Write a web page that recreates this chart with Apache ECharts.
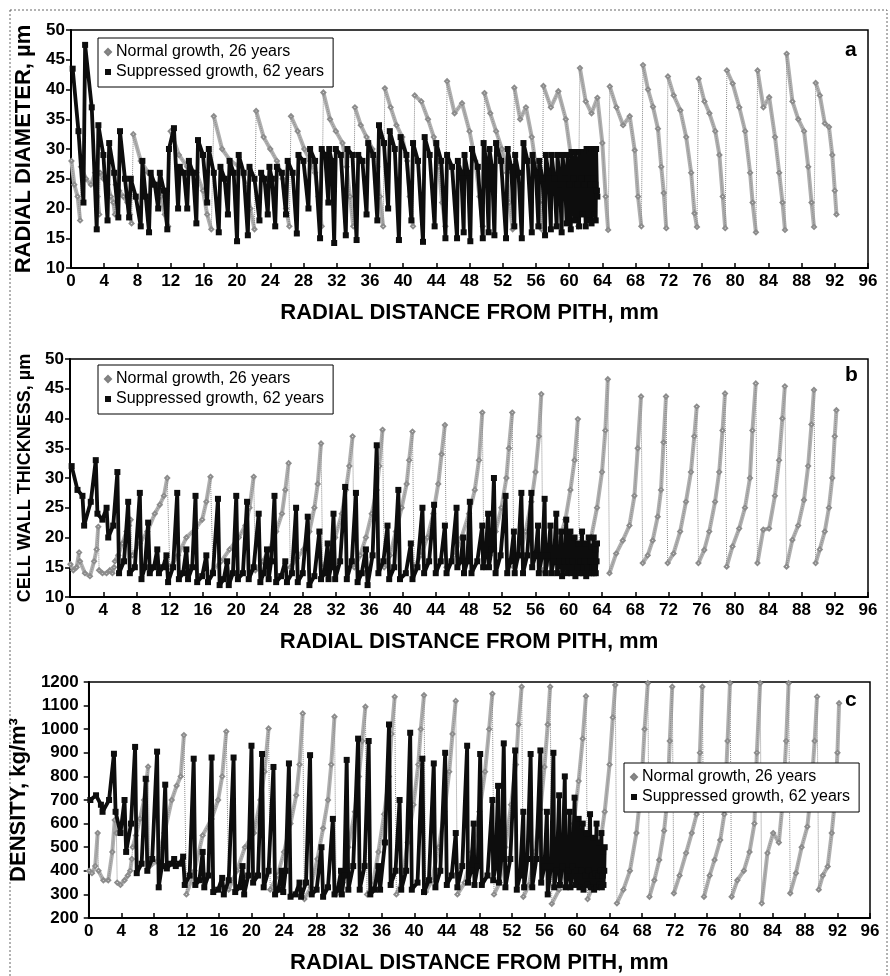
<!DOCTYPE html>
<html>
<head>
<meta charset="utf-8">
<script src="https://cdn.jsdelivr.net/npm/echarts@6/dist/echarts.min.js"></script>
<style>
html, body { margin: 0; background: #fff; }
#chart { width: 890px; height: 976px; }
</style>
</head>
<body>
<div id="chart"></div>
<script>
// ---- normal growth tree: 26 rings, sample positions (mm) per ring ----
var normalX = [
  [0.05, 0.4, 0.8, 1.1],
  [1.2, 1.8, 2.4, 2.9, 3.2, 3.4],
  [3.5, 3.9, 4.4, 4.8, 5.1, 5.3],
  [5.4, 5.8, 6.3, 6.8, 7.1, 7.3],
  [7.5, 8.4, 9.3, 10.2, 10.8, 11.3, 11.7],
  [12.0, 13.0, 14.0, 15.1, 15.9, 16.4, 16.9],
  [17.2, 18.2, 19.2, 20.3, 21.1, 21.6, 22.1],
  [22.3, 23.2, 24.0, 24.8, 25.5, 25.9, 26.3],
  [26.5, 27.3, 28.1, 28.8, 29.4, 29.8, 30.2],
  [30.4, 31.2, 31.9, 32.7, 33.2, 33.6, 34.0],
  [34.2, 34.9, 35.6, 36.3, 36.9, 37.2, 37.6],
  [37.8, 38.5, 39.2, 39.9, 40.5, 40.8, 41.2],
  [41.4, 42.2, 43.0, 43.7, 44.3, 44.7, 45.1],
  [45.3, 46.2, 47.1, 48.0, 48.7, 49.2, 49.6],
  [49.8, 50.5, 51.2, 51.9, 52.5, 52.8, 53.2],
  [53.4, 54.1, 54.8, 55.5, 56.0, 56.4, 56.7],
  [56.9, 57.8, 58.7, 59.6, 60.2, 60.7, 61.1],
  [61.3, 62.0, 62.7, 63.4, 64.0, 64.4, 64.7],
  [64.9, 65.7, 66.5, 67.3, 67.9, 68.3, 68.7],
  [68.9, 69.5, 70.1, 70.7, 71.1, 71.4, 71.7],
  [71.9, 72.6, 73.4, 74.1, 74.7, 75.1, 75.4],
  [75.6, 76.3, 76.9, 77.6, 78.1, 78.5, 78.8],
  [79.0, 79.7, 80.5, 81.2, 81.8, 82.1, 82.5],
  [82.7, 83.4, 84.1, 84.8, 85.3, 85.7, 86.0],
  [86.2, 86.9, 87.6, 88.3, 88.8, 89.2, 89.5],
  [89.7, 90.2, 90.8, 91.3, 91.7, 92.0, 92.2]
];

var normalDiameter = [
  [28, 24, 22, 18],
  [27, 25, 24, 26, 22, 19],
  [26, 25, 24, 22, 21, 19],
  [24, 23, 22, 21, 19, 17.5],
  [32.5, 28, 26, 24, 22, 19, 17],
  [33, 29, 27, 26, 23, 19, 16.5],
  [35.5, 30, 28, 27, 24, 20, 16.5],
  [36.4, 32, 30, 28, 25, 20, 17],
  [35.5, 33, 30, 28, 26, 22, 17],
  [39.5, 35, 33, 31, 27, 22, 17],
  [37, 34, 32, 30, 27, 22, 17],
  [40.2, 37, 34, 32, 28, 22, 17],
  [39, 38, 35, 32, 27, 21, 17],
  [41.4, 36, 37.7, 33, 28, 22, 17],
  [39.4, 36, 33, 30, 26, 21, 16.5],
  [40.3, 35, 37, 32, 27, 21, 16.5],
  [40.6, 37, 39.7, 35, 29, 22, 17],
  [43.6, 38, 36, 38.6, 31, 22, 16.4],
  [40.5, 37, 34, 35.5, 29.8, 22, 17],
  [44.1, 40, 37.1, 33.4, 27, 22.6, 16.7],
  [42.2, 39, 36.5, 32, 26, 19.2, 16.9],
  [41.8, 38, 36, 33, 29, 22, 16.7],
  [43.2, 41, 37, 33, 26, 21, 16],
  [43.2, 37, 38.7, 32, 26, 21, 16.4],
  [46, 38, 35, 33, 27, 21, 16.9],
  [41.1, 39, 34.3, 33.7, 29, 23, 19]
];

var normalWall = [
  [15.5, 14.5, 15, 17.5],
  [16, 14, 13.5, 16, 18, 21.8],
  [14.5, 14, 14, 14.5, 14, 15],
  [16, 17, 19, 21, 22, 23],
  [17, 19, 21, 24, 25.5, 27, 30],
  [15, 17, 20, 21.5, 23, 26, 30.2],
  [14.5, 16, 18, 20, 22, 25, 30.2],
  [14.5, 16, 18, 21, 24, 28, 32.5],
  [15, 16.5, 18, 21, 25, 29, 35.8],
  [15, 17, 20, 24, 28, 32, 37],
  [15, 17, 20, 24, 28, 32, 38.1],
  [15, 17, 21, 25, 29, 33, 37.8],
  [15, 17, 20, 24, 29, 34, 38.9],
  [15, 17, 20, 24, 28, 33, 41],
  [15, 17, 21, 25, 30, 35, 41],
  [15, 17, 21, 26, 31, 37, 44.1],
  [14.5, 16, 19, 23, 28, 33, 39.9],
  [15, 17, 20, 25, 31, 38, 46.6],
  [14, 17.3, 19.5, 22, 27, 35, 43.7],
  [15.7, 17, 19.5, 23.5, 28, 36, 43.7],
  [15.7, 17.3, 21, 26, 31, 37, 42],
  [15.7, 17.9, 21, 26, 31, 38, 44.2],
  [15.1, 18.5, 21.5, 25, 30, 38, 45.9],
  [15.7, 21.3, 21.5, 27, 33, 40, 45.4],
  [15.1, 19.6, 22, 26.3, 32, 39, 44.8],
  [15.7, 18, 21, 25, 30, 37, 41.4]
];

var normalDensity = [
  [400, 390, 420, 560],
  [400, 360, 360, 480, 615, 560],
  [350, 340, 360, 380, 400, 450],
  [500, 550, 620, 700, 780, 841],
  [420, 440, 560, 700, 760, 800, 975],
  [300, 400, 550, 620, 700, 800, 990],
  [320, 400, 500, 560, 700, 820, 1003],
  [320, 380, 480, 600, 720, 850, 1067],
  [280, 330, 450, 580, 700, 850, 1053],
  [300, 350, 500, 650, 800, 950, 1095],
  [300, 340, 480, 640, 800, 980, 1137],
  [300, 360, 520, 680, 850, 1000, 1144],
  [310, 360, 500, 650, 820, 980, 1120],
  [300, 350, 480, 650, 820, 1000, 1150],
  [300, 350, 500, 680, 850, 1020, 1180],
  [290, 340, 480, 660, 840, 1020, 1180],
  [260, 320, 450, 600, 780, 960, 1140],
  [280, 340, 480, 650, 850, 1050, 1187],
  [262, 320, 400, 560, 756, 1000, 1195],
  [290, 360, 446, 570, 700, 950, 1180],
  [305, 380, 475, 560, 640, 900, 1180],
  [290, 380, 446, 530, 640, 950, 1195],
  [290, 360, 400, 480, 600, 900, 1195],
  [262, 475, 560, 520, 700, 950, 1195],
  [305, 390, 500, 587, 750, 950, 1138],
  [320, 380, 418, 560, 700, 900, 1110]
];

// ---- suppressed growth tree: 62 rings, three samples per ring ----
var suppressedX = [
  0.2, 0.9, 1.5, 1.7, 2.5, 3.1, 3.3, 3.9, 4.4, 4.6, 5.2, 5.7, 5.9, 6.5, 7.0,
  7.2, 7.8, 8.4, 8.6, 9.0, 9.4, 9.6, 10.1, 10.5, 10.7, 11.2, 11.6, 11.8, 12.4, 12.9,
  13.1, 13.6, 14.0, 14.2, 14.7, 15.1, 15.3, 15.9, 16.4, 16.6, 17.2, 17.8, 18.0, 18.5, 18.9,
  19.1, 19.6, 20.0, 20.2, 20.8, 21.3, 21.5, 22.1, 22.7, 22.9, 23.3, 23.7, 23.9, 24.2, 24.6,
  24.8, 25.4, 25.9, 26.1, 26.7, 27.2, 27.4, 28.0, 28.6, 28.8, 29.4, 30.0, 30.2, 30.6, 31.0,
  31.1, 31.4, 31.7, 31.9, 32.5, 33.1, 33.3, 33.9, 34.4, 34.6, 35.1, 35.6, 35.8, 36.4, 36.9,
  37.1, 37.7, 38.2, 38.4, 39.0, 39.5, 39.7, 40.4, 41.0, 41.2, 41.8, 42.4, 42.6, 43.2, 43.8,
  44.0, 44.6, 45.1, 45.3, 45.9, 46.5, 46.6, 47.0, 47.3, 47.4, 47.8, 48.1, 48.3, 49.0, 49.6,
  49.7, 50.0, 50.3, 50.4, 50.7, 51.0, 51.2, 51.8, 52.4, 52.6, 53.0, 53.4, 53.5, 53.9, 54.3,
  54.5, 55.0, 55.5, 55.6, 56.0, 56.3, 56.4, 56.8, 57.1, 57.2, 57.5, 57.8, 57.9, 58.2, 58.5,
  58.6, 58.9, 59.1, 59.2, 59.5, 59.7, 59.8, 60.0, 60.2, 60.3, 60.5, 60.7, 60.8, 61.0, 61.2,
  61.3, 61.45, 61.6, 61.7, 61.85, 62.0, 62.1, 62.25, 62.4, 62.45, 62.6, 62.7, 62.75, 62.9, 63.0,
  63.05, 63.15, 63.2, 63.25, 63.35, 63.4
];

var suppressedDiameter = [
  43.5, 33, 21, 47.5, 37, 16.5, 34, 29, 18, 31, 26, 18.5, 33, 25, 18.5,
  25, 22, 17, 28, 22, 16, 26, 24, 20, 26, 23, 16.5, 30, 33.5, 20,
  27, 26, 20, 28, 26, 17.5, 31.5, 29, 21, 30, 26, 16, 27, 25, 19,
  28, 26, 14.5, 29, 26, 15.5, 27, 25, 18, 26, 25, 19, 27, 25, 17,
  27, 26, 19, 28, 26, 15.8, 29, 28, 20, 30, 28, 15, 30, 29, 21,
  30, 28, 14.2, 30, 29, 15.5, 30, 29, 14.7, 29, 28, 19, 31, 29, 18,
  34, 31, 20, 33, 30, 14.7, 32, 29, 18, 31, 28, 14.4, 32, 29, 17,
  31, 28, 15, 29, 27, 15, 28, 26, 16, 29, 26, 14.5, 30, 27, 15,
  31, 28, 16, 30, 27, 15.5, 31, 28, 15, 30, 27, 17, 29, 26, 15,
  31, 28, 16, 29, 26, 17, 28, 25, 15.5, 29, 26, 16.5, 29, 25, 17,
  29, 24, 16, 29, 25, 17.5, 29, 24, 16.5, 29.5, 25, 18, 29.5, 24, 17,
  29.5, 25, 19, 29.5, 24, 17, 30, 25, 18, 30, 24, 17.5, 30, 25, 19,
  30, 24, 18, 30, 23, 22
];

var suppressedWall = [
  32, 28, 27, 22, 26, 33, 24, 23, 25, 20, 22, 31, 14, 16, 26,
  14, 15, 27.5, 13, 15, 22.5, 14, 15, 18, 14, 15, 17, 12.5, 15, 27.5,
  13, 14, 18, 13, 15, 27, 12.5, 13.5, 17, 12.5, 14, 26.5, 12, 13, 16,
  12, 14, 27, 13, 14, 26, 13, 15, 24, 12.5, 14, 18, 13, 16, 27,
  12.5, 13.5, 16, 12.5, 14, 25, 12.5, 14, 23.5, 12, 13.5, 21, 13, 14, 19,
  13, 15, 24, 13, 16, 28.5, 13, 16, 27.5, 12.5, 14, 18, 12, 17, 35.5,
  14, 16, 22, 13, 15, 28, 13, 14, 19, 13, 15, 25, 14, 16, 25.5,
  14, 16, 22, 14, 16, 25, 15, 16, 20, 14, 16, 26, 14, 16, 22,
  15, 17, 24, 15, 18, 30, 14, 17, 27, 14, 16, 21, 14, 17, 27.5,
  14, 17, 27.5, 15, 17, 22, 14, 17, 26.5, 14, 17, 22, 14, 16, 24,
  14, 16, 21, 13.5, 16, 23, 14, 16, 21, 14, 16, 20, 13.5, 15, 19,
  14, 16, 21, 14, 16, 19, 13.5, 15, 20, 14, 16, 18.5, 14, 15, 20,
  14, 15, 18, 14, 16, 19
];

var suppressedDensity = [
  700, 720, 680, 650, 700, 896, 650, 560, 700, 480, 600, 925, 390, 430, 790,
  400, 450, 905, 330, 420, 765, 410, 430, 450, 420, 430, 460, 340, 380, 875,
  340, 360, 480, 330, 380, 880, 310, 320, 370, 300, 360, 880, 310, 330, 420,
  300, 380, 930, 350, 380, 895, 330, 400, 840, 300, 320, 400, 310, 400, 855,
  290, 300, 350, 290, 350, 890, 300, 320, 500, 290, 330, 620, 300, 320, 400,
  300, 380, 870, 320, 420, 960, 320, 420, 950, 300, 320, 420, 320, 520, 1020,
  340, 400, 700, 320, 400, 985, 320, 350, 875, 310, 360, 855, 330, 400, 900,
  340, 380, 560, 330, 420, 930, 350, 400, 600, 340, 420, 895, 340, 380, 700,
  360, 420, 760, 350, 450, 940, 330, 450, 910, 320, 380, 650, 330, 450, 895,
  330, 450, 910, 350, 420, 650, 300, 420, 900, 330, 400, 720, 340, 420, 800,
  330, 400, 650, 330, 420, 710, 340, 400, 620, 330, 400, 600, 320, 380, 560,
  340, 400, 640, 330, 380, 540, 320, 390, 600, 330, 380, 520, 340, 400, 560,
  330, 380, 480, 340, 400, 500
];

var xTitle = 'RADIAL DISTANCE FROM PITH, mm';
var NORMAL = 'Normal growth, 26 years';
var SUPP = 'Suppressed growth, 62 years';
var FONT = 'Liberation Sans';

var panels = [
  { top: 30, left: 71, right: 22, height: 238, min: 10, max: 50, step: 5,
    yName: 'RADIAL DIAMETER, µm', yNameSize: 22, yGap: 30, labelMargin: 6,
    normal: normalDiameter, supp: suppressedDiameter,
    legend: { left: 98, top: 38 }, letter: 'a', letterTop: 40 },
  { top: 359, left: 70, right: 22, height: 238, min: 10, max: 50, step: 5,
    yName: 'CELL WALL THICKNESS, µm', yNameSize: 18, yGap: 32, labelMargin: 6,
    normal: normalWall, supp: suppressedWall,
    legend: { left: 98, top: 365 }, letter: 'b', letterTop: 365 },
  { top: 682, left: 88, right: 20, height: 236, min: 200, max: 1200, step: 100,
    yName: 'DENSITY, kg/m³', yNameSize: 22, yGap: 47, labelMargin: 10,
    normal: normalDensity, supp: suppressedDensity,
    legend: { left: 624, top: 763 }, letter: 'c', letterTop: 690 }
];

function joinedPairs(xs, ys) {
  var out = [];
  xs.forEach(function (ring, r) {
    ring.forEach(function (x, i) { out.push([x, ys[r][i]]); });
  });
  return out;
}

// same points, but with a break between rings (thick band within each ring)
function ringPairs(xs, ys) {
  var out = [];
  xs.forEach(function (ring, r) {
    if (r > 0) out.push([ring[0], '-']);
    ring.forEach(function (x, i) { out.push([x, ys[r][i]]); });
  });
  return out;
}

function flatPairs(xs, ys) {
  return xs.map(function (x, i) { return [x, ys[i]]; });
}

var grids = [], xAxes = [], yAxes = [], series = [], legends = [], graphics = [];

panels.forEach(function (p, i) {
  grids.push({
    left: p.left, right: p.right, top: p.top, height: p.height,
    show: true, borderColor: '#000', borderWidth: 1.5
  });
  xAxes.push({
    gridIndex: i, type: 'value', min: 0, max: 96, interval: 4,
    axisLine: { lineStyle: { color: '#000', width: 2 } },
    axisTick: { inside: true, length: 5, lineStyle: { color: '#000', width: 1.5 } },
    axisLabel: { color: '#000', fontFamily: FONT, fontWeight: 'bold', fontSize: 17, margin: 5 },
    splitLine: { show: false },
    name: xTitle, nameLocation: 'middle', nameGap: 34,
    nameTextStyle: { color: '#000', fontFamily: FONT, fontWeight: 'bold', fontSize: 22 }
  });
  yAxes.push({
    gridIndex: i, type: 'value', min: p.min, max: p.max, interval: p.step,
    axisLine: { show: true, lineStyle: { color: '#000', width: 2 } },
    axisTick: { show: true, length: 5, lineStyle: { color: '#000', width: 1.5 } },
    axisLabel: {
      color: '#000', fontFamily: FONT, fontWeight: 'bold', fontSize: 17, margin: p.labelMargin,
      formatter: function (v) { return String(v); }
    },
    splitLine: { show: false },
    name: p.yName, nameLocation: 'middle', nameGap: p.yGap,
    nameTextStyle: { color: '#000', fontFamily: FONT, fontWeight: 'bold', fontSize: p.yNameSize }
  });

  series.push({
    name: 'normal band', type: 'line', xAxisIndex: i, yAxisIndex: i,
    data: ringPairs(normalX, p.normal), symbol: 'none', silent: true,
    lineStyle: { color: '#b0b0b0', width: 4 }, z: 2
  });
  series.push({
    name: NORMAL, type: 'line', xAxisIndex: i, yAxisIndex: i,
    data: joinedPairs(normalX, p.normal), connectNulls: true,
    symbol: 'emptyDiamond', symbolSize: 4, showAllSymbol: true,
    itemStyle: { color: '#8c8c8c', borderColor: '#808080', borderWidth: 1 },
    lineStyle: { color: '#8a8a8a', width: 1, type: 'dotted' }, z: 3
  });
  series.push({
    name: SUPP, type: 'line', xAxisIndex: i, yAxisIndex: i,
    data: flatPairs(suppressedX, p.supp),
    symbol: 'rect', symbolSize: 6, showAllSymbol: true,
    itemStyle: { color: '#0d0d0d' },
    lineStyle: { color: '#0d0d0d', width: 3.8 }, z: 4
  });

  legends.push({
    left: p.legend.left, top: p.legend.top, orient: 'vertical',
    data: [{ name: NORMAL, icon: 'diamond' }, { name: SUPP, icon: 'rect' }],
    selectedMode: false, backgroundColor: '#fff',
    borderColor: '#000', borderWidth: 1, padding: [5, 9, 6, 6],
    itemGap: 2, itemWidth: 6, itemHeight: 6,
    textStyle: { color: '#000', fontFamily: FONT, fontSize: 16, lineHeight: 18 }
  });

  graphics.push({
    type: 'text', left: 845, top: p.letterTop,
    style: { text: p.letter, font: 'bold 21px ' + FONT, fill: '#000' }
  });
});

graphics.push({
  type: 'rect', shape: { x: 10, y: 10, width: 877, height: 990 },
  style: { fill: 'none', stroke: '#666', lineWidth: 1, lineDash: [2, 2] }, silent: true
});

var chart = echarts.init(document.getElementById('chart'));
chart.setOption({
  backgroundColor: '#fff',
  animation: false,
  grid: grids,
  xAxis: xAxes,
  yAxis: yAxes,
  legend: legends,
  graphic: graphics,
  series: series
});
</script>
</body>
</html>
